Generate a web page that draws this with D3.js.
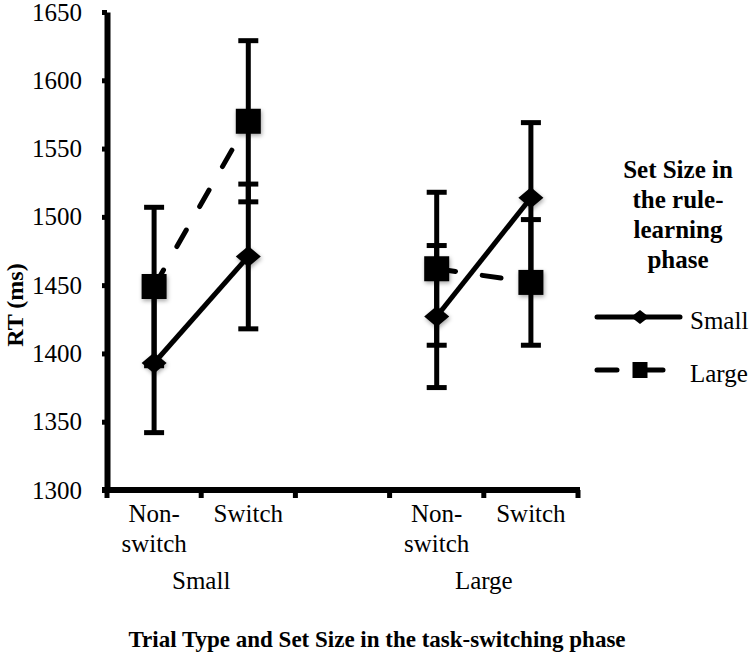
<!DOCTYPE html>
<html>
<head>
<meta charset="utf-8">
<script src="https://cdn.jsdelivr.net/npm/d3@7"></script>
<style>
  body { margin: 0; background: #fff; }
  svg text { font-family: "Liberation Serif", "Times New Roman", Times, serif; fill: #000; }
</style>
</head>
<body>
<svg id="chart"></svg>
<script>
// categories along the x axis (a blank slot separates the two groups)
const slots = ["ns-small", "sw-small", "gap", "ns-large", "sw-large"];
const slotLabels = [["Non-", "switch"], ["Switch"], [], ["Non-", "switch"], ["Switch"]];
const groups = ["Small", "Large"];
const groupSlots = [["ns-small", "sw-small"], ["ns-large", "sw-large"]];
const pointSlots = ["ns-small", "sw-small", "ns-large", "sw-large"];

// RT means and error bars (ms), per rule-learning set size
const smallMeans = [1393, 1471, 1427, 1514];
const smallErr = [51, 53, 52, 55];
const largeMeans = [1449, 1570, 1462, 1452];
const largeErr = [58, 59, 56, 46];

const yTicks = [1300, 1350, 1400, 1450, 1500, 1550, 1600, 1650];

const width = 756, height = 663;
const serif = '"Liberation Serif", "Times New Roman", Times, serif';

const svg = d3.select("#chart")
  .attr("width", width)
  .attr("height", height);

// soft shadow like the office chart markers
const defs = svg.append("defs");
defs.append("filter")
  .attr("id", "shadow")
  .attr("x", "-50%").attr("y", "-50%")
  .attr("width", "200%").attr("height", "200%")
  .append("feDropShadow")
  .attr("dx", 1).attr("dy", 2)
  .attr("stdDeviation", 2)
  .attr("flood-color", "#000")
  .attr("flood-opacity", 0.35);

const x = d3.scaleBand()
  .domain(slots)
  .range([107, 578])
  .padding(0);

const y = d3.scaleLinear()
  .domain([1300, 1650])
  .range([490, 12]);

// y axis
const yAxis = svg.append("g")
  .attr("transform", `translate(${x.range()[0]},0)`)
  .call(d3.axisLeft(y).tickValues(yTicks).tickFormat(d3.format("d"))
    .tickSize(5).tickSizeOuter(0).tickPadding(20));

yAxis.attr("font-family", null).attr("font-size", null);
yAxis.select(".domain").attr("stroke", "#000").attr("stroke-width", 6);
yAxis.selectAll(".tick line").attr("stroke", "#000").attr("stroke-width", 5);
yAxis.selectAll(".tick text")
  .style("font-family", serif)
  .style("font-size", "25px")
  .attr("fill", "#000");

// x axis (ticks at slot borders)
const xAxis = svg.append("g");
xAxis.append("line")
  .attr("x1", x.range()[0] - 5)
  .attr("x2", x.range()[1] + 2)
  .attr("y1", y(1300))
  .attr("y2", y(1300))
  .attr("stroke", "#000")
  .attr("stroke-width", 6);

const borders = slots.map(d => x(d)).concat([x.range()[1]]);
xAxis.selectAll(".xtick")
  .data(borders)
  .enter()
  .append("line")
  .attr("class", "xtick")
  .attr("x1", d => d)
  .attr("x2", d => d)
  .attr("y1", y(1300))
  .attr("y2", y(1300) + 8)
  .attr("stroke", "#000")
  .attr("stroke-width", 5);

// slot labels
const labels = xAxis.selectAll(".xlabel")
  .data(slots)
  .enter()
  .append("text")
  .attr("class", "xlabel")
  .attr("text-anchor", "middle")
  .style("font-size", "25px");

labels.each(function (d, i) {
  const t = d3.select(this);
  slotLabels[i].forEach((line, j) => {
    t.append("tspan")
      .attr("x", x(d) + x.bandwidth() / 2)
      .attr("y", 522 + j * 30)
      .text(line);
  });
});

// group labels
xAxis.selectAll(".glabel")
  .data(groups)
  .enter()
  .append("text")
  .attr("class", "glabel")
  .attr("text-anchor", "middle")
  .attr("x", (d, i) => (x(groupSlots[i][0]) + x(groupSlots[i][1]) + x.bandwidth()) / 2)
  .attr("y", 589)
  .style("font-size", "25px")
  .text(d => d);

// axis titles
svg.append("text")
  .attr("transform", `translate(23,305) rotate(-90)`)
  .attr("text-anchor", "middle")
  .style("font-size", "24px")
  .style("font-weight", "bold")
  .text("RT (ms)");

svg.append("text")
  .attr("x", 377)
  .attr("y", 647)
  .attr("text-anchor", "middle")
  .style("font-size", "23px")
  .style("font-weight", "bold")
  .text("Trial Type and Set Size in the task-switching phase");

const cx = d => x(d) + x.bandwidth() / 2;

const series = [
  { name: "Small", means: smallMeans, errs: smallErr, dash: null, marker: "diamond" },
  { name: "Large", means: largeMeans, errs: largeErr, dash: "19,27", marker: "square" }
];

const diamondPath = "M0,-10.5L12.5,0L0,10.5L-12.5,0Z";

const plot = svg.append("g");

series.forEach(s => {
  const g = plot.append("g");
  const pts = pointSlots.map((slot, i) => ({ slot, v: s.means[i], e: s.errs[i] }));

  // error bars
  const eb = g.selectAll(".err")
    .data(pts)
    .enter()
    .append("g")
    .attr("stroke", "#000")
    .attr("stroke-width", 5);
  eb.append("line")
    .attr("x1", d => cx(d.slot)).attr("x2", d => cx(d.slot))
    .attr("y1", d => y(d.v - d.e)).attr("y2", d => y(d.v + d.e));
  eb.append("line")
    .attr("x1", d => cx(d.slot) - 10).attr("x2", d => cx(d.slot) + 10)
    .attr("y1", d => y(d.v + d.e)).attr("y2", d => y(d.v + d.e));
  eb.append("line")
    .attr("x1", d => cx(d.slot) - 10).attr("x2", d => cx(d.slot) + 10)
    .attr("y1", d => y(d.v - d.e)).attr("y2", d => y(d.v - d.e));

  // lines, one per group
  const line = d3.line().x(d => cx(d.slot)).y(d => y(d.v));
  [pts.slice(0, 2), pts.slice(2, 4)].forEach(seg => {
    g.append("path")
      .attr("d", line(seg))
      .attr("fill", "none")
      .attr("stroke", "#000")
      .attr("stroke-width", 5)
      .attr("stroke-linecap", s.dash ? "round" : "butt")
      .attr("stroke-dasharray", s.dash);
  });

  // markers
  g.selectAll(".mk")
    .data(pts)
    .enter()
    .append("path")
    .attr("transform", d => `translate(${cx(d.slot)},${y(d.v)})`)
    .attr("d", s.marker === "diamond" ? diamondPath : "M-12.5,-12.5H12.5V12.5H-12.5Z")
    .attr("fill", "#000")
    .attr("filter", "url(#shadow)");
});

// legend
const legend = svg.append("g");
const titleLines = ["Set Size in", "the rule-", "learning", "phase"];
legend.selectAll(".lt")
  .data(titleLines)
  .enter()
  .append("text")
  .attr("x", 678)
  .attr("y", (d, i) => 178 + i * 30)
  .attr("text-anchor", "middle")
  .style("font-size", "25px")
  .style("font-weight", "bold")
  .text(d => d);

series.forEach((s, i) => {
  const ly = 317 + i * 53;
  legend.append("line")
    .attr("x1", 597).attr("x2", 680)
    .attr("y1", ly).attr("y2", ly)
    .attr("stroke", "#000")
    .attr("stroke-width", 5)
    .attr("stroke-linecap", "round")
    .attr("stroke-dasharray", s.dash ? "20,26" : null);
  legend.append("path")
    .attr("transform", `translate(640,${ly})`)
    .attr("d", s.marker === "diamond" ? "M0,-7L9,0L0,7L-9,0Z" : "M-7.5,-8H7.5V8H-7.5Z")
    .attr("fill", "#000");
  legend.append("text")
    .attr("x", 690)
    .attr("y", ly + 12)
    .style("font-size", "25px")
    .text(s.name);
});
</script>
</body>
</html>
